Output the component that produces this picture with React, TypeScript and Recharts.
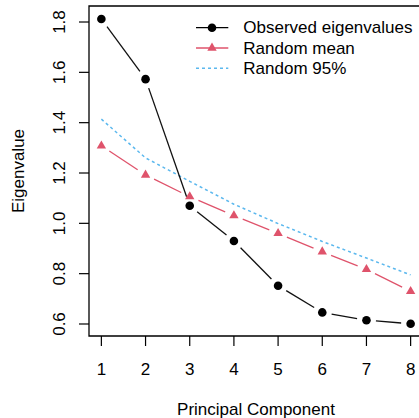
import { LineChart, Line, XAxis, YAxis, ReferenceArea } from 'recharts';

// scree plot: observed eigenvalues vs parallel-analysis random eigenvalues
const components = [1, 2, 3, 4, 5, 6, 7, 8];
const observed = [1.812, 1.573, 1.07, 0.93, 0.752, 0.646, 0.615, 0.601];
const randomMean = [1.308, 1.192, 1.106, 1.031, 0.96, 0.887, 0.817, 0.73];
const random95 = [1.414, 1.26, 1.167, 1.076, 0.999, 0.928, 0.862, 0.795];
const yTicks = [0.6, 0.8, 1.0, 1.2, 1.4, 1.6, 1.8];
const legendLabels = ['Observed eigenvalues', 'Random mean', 'Random 95%'];

const data = components.map((c, i) => ({
  pc: c,
  observed: observed[i],
  mean: randomMean[i],
  p95: random95[i],
}));

const FONT = '"Liberation Sans", Arial, Helvetica, sans-serif';
const BLACK = '#000000';
const PINK = '#DF536B';
const BLUE = '#5BB8EE';
const xDomain = [0.72, 8.28];
const yDomain = [0.5523, 1.8636];

const triPath = (x: number, y: number) => {
  const r = 5.4;
  const xc = r * 0.866;
  return `M${x},${y - r} L${x + xc},${y + r / 2} L${x - xc},${y + r / 2} Z`;
};

// R type="b": line segments broken around each point, point on top
const gappedDot = (shape: 'circle' | 'tri', color: string, lineColor: string, gap: number) => (props: any) => {
  const { cx, cy, index, points } = props;
  const next = points && points[index + 1];
  let seg = null;
  if (next && cx != null && next.x != null) {
    const dx = next.x - cx;
    const dy = next.y - cy;
    const len = Math.hypot(dx, dy);
    if (len > 2 * gap) {
      const ux = dx / len;
      const uy = dy / len;
      seg = (
        <line
          x1={cx + ux * gap}
          y1={cy + uy * gap}
          x2={next.x - ux * gap}
          y2={next.y - uy * gap}
          stroke={lineColor}
          strokeWidth={1.3}
        />
      );
    }
  }
  const marker =
    shape === 'circle' ? (
      <circle cx={cx} cy={cy} r={4.3} fill={color} />
    ) : (
      <path d={triPath(cx, cy)} fill={color} />
    );
  return (
    <g key={`d-${index}`}>
      {seg}
      {marker}
    </g>
  );
};

const XTick = (p: any) => (
  <text x={p.x} y={p.y + 28.5} textAnchor="middle" fontSize={17} fontFamily={FONT} fill="#000">
    {p.payload.value}
  </text>
);

const YTick = (p: any) => {
  const bx = p.x - 14;
  return (
    <text
      x={bx}
      y={p.y}
      transform={`rotate(-90, ${bx}, ${p.y})`}
      textAnchor="middle"
      fontSize={17}
      fontFamily={FONT}
      fill="#000"
    >
      {p.payload.value.toFixed(1)}
    </text>
  );
};

const XTitle = (props: any) => {
  const vb = props.viewBox || { x: 89, width: 334 };
  return (
    <text x={vb.x + vb.width / 2} y={415} textAnchor="middle" fontSize={17} fontFamily={FONT} fill="#000">
      Principal Component
    </text>
  );
};

const YTitle = (props: any) => {
  const vb = props.viewBox || { y: 6, height: 330 };
  const cy = vb.y + vb.height / 2;
  return (
    <text
      x={23.5}
      y={cy}
      transform={`rotate(-90, 23.5, ${cy})`}
      textAnchor="middle"
      fontSize={17}
      fontFamily={FONT}
      fill="#000"
    >
      Eigenvalue
    </text>
  );
};

const LegendBox = () => {
  const rows = [27.7, 48, 68.3];
  return (
    <svg width={419} height={100} style={{ position: 'absolute', left: 0, top: 0 }}>
      <line x1={196} y1={rows[0]} x2={228.3} y2={rows[0]} stroke={BLACK} strokeWidth={1.3} />
      <circle cx={212} cy={rows[0]} r={4.3} fill={BLACK} />
      <line x1={196} y1={rows[1]} x2={228.3} y2={rows[1]} stroke={PINK} strokeWidth={1.3} />
      <path d={triPath(212, rows[1])} fill={PINK} />
      <line x1={196} y1={rows[2]} x2={228.3} y2={rows[2]} stroke={BLUE} strokeWidth={1.5} strokeDasharray="3 3" />
      {legendLabels.map((t, i) => (
        <text key={t} x={243.3} y={rows[i]} dominantBaseline="central" fontSize={17} fontFamily={FONT} fill="#000">
          {t}
        </text>
      ))}
    </svg>
  );
};

export default function App() {
  return (
    <div
      style={{
        position: 'fixed',
        left: 0,
        top: 0,
        width: 419,
        height: 418,
        overflow: 'hidden',
        background: '#fff',
      }}
    >
      <LineChart width={440} height={418} data={data} margin={{ top: 6, right: 17, bottom: 0, left: 0 }}>
        <XAxis
          dataKey="pc"
          type="number"
          domain={xDomain}
          ticks={components}
          allowDataOverflow
          height={82}
          axisLine={false}
          tickLine={{ stroke: '#000', strokeWidth: 1.2 }}
          tickSize={10}
          tickMargin={0}
          tick={<XTick />}
          label={<XTitle />}
        />
        <YAxis
          type="number"
          domain={yDomain}
          ticks={yTicks}
          allowDataOverflow
          width={89}
          axisLine={false}
          tickLine={{ stroke: '#000', strokeWidth: 1.2 }}
          tickSize={10}
          tickMargin={0}
          tick={<YTick />}
          label={<YTitle />}
        />
        <ReferenceArea
          x1={xDomain[0]}
          x2={xDomain[1]}
          y1={yDomain[0]}
          y2={yDomain[1]}
          fill="none"
          stroke="#000"
          strokeWidth={1.3}
          ifOverflow="visible"
        />
        <Line
          dataKey="observed"
          stroke="none"
          dot={gappedDot('circle', BLACK, '#111', 9.5)}
          activeDot={false}
          isAnimationActive={false}
        />
        <Line
          dataKey="mean"
          stroke="none"
          dot={gappedDot('tri', PINK, PINK, 9.5)}
          activeDot={false}
          isAnimationActive={false}
        />
        <Line
          dataKey="p95"
          stroke={BLUE}
          strokeWidth={1.5}
          strokeDasharray="3 3"
          dot={false}
          activeDot={false}
          isAnimationActive={false}
        />
      </LineChart>
      <LegendBox />
    </div>
  );
}
